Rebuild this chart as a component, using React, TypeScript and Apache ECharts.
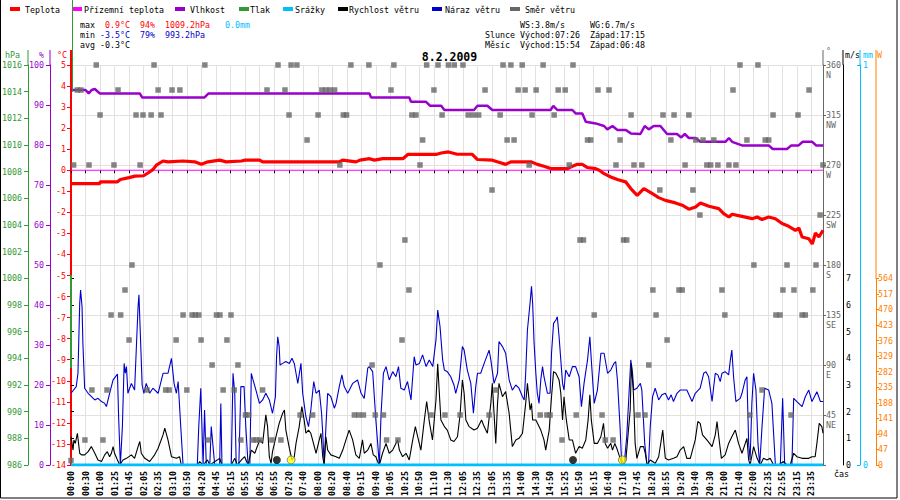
import React, { useEffect, useRef } from "react";
import * as echarts from "echarts";

// ---- tick labels (one every 5 records) ----
const timeLabels = [
  "00:00", "00:30", "01:00", "01:25", "01:45", "02:05", "02:35", "03:10", "03:50", "04:20",
  "04:45", "05:15", "05:55", "06:25", "06:55", "07:20", "07:40", "08:00", "08:20", "08:40",
  "09:15", "09:40", "10:05", "10:25", "10:50", "11:10", "11:30", "12:05", "12:35", "13:05",
  "13:35", "14:00", "14:30", "14:50", "15:25", "15:50", "16:15", "16:40", "17:10", "17:45",
  "18:20", "18:55", "19:20", "19:40", "20:30", "21:00", "21:40", "22:00", "22:35", "22:55",
  "23:15", "23:35",
];
const SAMPLE_COUNT = 260;
const LABEL_EVERY = 5;

// ---- series values: [record index, value] ----
const temperature: [number, number][] = [
  [0, -0.63], [10, -0.63], [10, -0.55], [16, -0.55], [17, -0.44], [20, -0.35], [22, -0.28], [25, -0.26],
  [26.5, -0.13], [28.2, 0.03], [29.4, 0.24], [31.7, 0.44], [33.4, 0.4], [38.6, 0.44], [42.6, 0.4],
  [44.9, 0.28], [47.2, 0.4], [51.2, 0.48], [53.5, 0.4], [58.7, 0.44], [60, 0.48], [65, 0.48],
  [66, 0.4], [92.4, 0.4], [93.5, 0.48], [98.2, 0.4], [99.5, 0.48], [102.8, 0.55], [104.5, 0.48],
  [107.4, 0.55], [114.3, 0.55], [116, 0.75], [125.7, 0.75], [127.5, 0.82], [130, 0.87],
  [133, 0.76], [138.2, 0.76], [140, 0.51], [145.1, 0.48], [146.8, 0.4], [149.7, 0.28], [151.5, 0.4],
  [158.4, 0.4], [160.6, 0.28], [162.9, 0.19], [165.2, 0.08], [171, 0.08], [172.7, 0.19], [174.4, 0.28],
  [176.1, 0.28], [177.9, 0.13], [180.7, 0.08], [181.9, 0], [183.6, -0.16], [185.9, -0.32], [188.2, -0.44],
  [191, -0.55], [192.8, -0.87], [195, -1.19], [197.3, -0.87], [200.1, -1.1], [202.4, -1.3], [204.7, -1.43],
  [208.2, -1.55], [210.5, -1.66], [212.8, -1.85], [215.1, -1.74], [216.8, -1.55], [219.7, -1.71],
  [223.1, -1.82], [224.8, -2.06], [226.6, -2.22], [227.7, -2.09], [231.1, -2.19], [234.6, -2.3],
  [236.3, -2.22], [238, -2.34], [240.3, -2.22], [242.6, -2.3], [244.9, -2.53], [247.2, -2.66],
  [249.5, -2.85], [250.7, -2.75], [251.8, -3.17], [254.1, -3.25], [255.3, -3.5], [256.4, -2.98],
  [257.6, -3.17], [259, -2.85],
];

const groundTemperature: [number, number][] = [[0, 0], [259, 0]];

const humidity: [number, number][] = [
  [0, 93.75], [5, 93.75], [6.1, 92.9], [7.1, 93.75], [8.2, 94], [9.9, 92.9], [23.7, 92.9], [24.5, 91.9],
  [46, 91.9], [47.4, 92.9], [102.8, 92.9], [103.3, 91.9], [116.5, 91.9], [117.1, 90.8], [122.3, 90.8],
  [123.7, 89.8], [127.5, 89.8], [128.6, 88.75], [138.8, 88.75], [140, 89.8], [143.4, 89.8], [145.1, 88.75],
  [165.2, 88.75], [166.1, 89.8], [167.5, 88.75], [172.7, 88.75], [173.8, 87.9], [176.1, 87.9], [177.3, 85.8],
  [180.7, 85.4], [183.6, 84.75], [184.7, 83.9], [186.5, 84.75], [188.2, 83.75], [191.1, 83.75], [192.8, 82.9],
  [196.1, 82.75], [197.6, 84.75], [199, 83.9], [200.7, 84.75], [203, 84.75], [205.3, 82.75], [208.7, 82.75],
  [210.2, 81.9], [211.4, 82.75], [212.8, 81.75], [215.1, 81.75], [216.8, 80.8], [225.4, 80.8], [226.6, 81.75],
  [227.7, 80.8], [231.1, 79.9], [240.3, 79.9], [241.7, 79], [246.6, 79], [248.1, 79.9], [250.6, 79.9],
  [252, 80.8], [255.3, 80.8], [256.6, 79.9], [259, 79.9],
];

const precipitation: [number, number][] = [[0, 0], [259, 0]];

const windSpeed: [number, number][] = [
  [0, 1.06], [0.35, 0.81], [0.7, 0.56], [1, 0.94], [1.5, 0.81], [2.2, 1.19], [3, 0.44], [3.6, 0.38], [4.7, 0.38],
  [5.9, 0.5], [7, 0.69], [8.2, 0.44], [9.3, 0.19], [10.5, 0.13], [11.6, 0.38], [12.5, 0.5], [13.3, 0.31],
  [13.9, 0.44], [14.5, 0.69], [15, 0.44], [16, 0.19], [16.8, 0], [17.9, 0.19], [19.1, 0.25], [20.8, 0.38],
  [21.9, 0.25], [23.1, 0.69], [23.7, 0.88], [24.2, 0.44], [25.4, 0.25], [27.1, 0.13], [28.8, 0.38], [30, 0.63],
  [31.7, 1.13], [32.3, 1.38], [33.4, 0.94], [34.6, 0.31], [36.3, 0.25], [37.4, 0.31], [38, 0], [43.7, 0],
  [44.3, 0.13], [45.5, 0], [47, 0.19], [47.8, 0], [51.2, 0.25], [52, 0], [55.2, 0], [56.4, 0.25], [57.3, 0],
  [58.7, 0.19], [59.8, 0.31], [61, 0], [62.1, 0.56], [63.3, 0.44], [63.7, 0.56], [65, 0.94], [66, 0.81],
  [67.1, 1.88], [67.7, 1.44], [68.3, 0.31], [68.9, 0.06], [69.4, 0.5], [70.6, 1.06], [71.7, 1.56], [72.9, 1.94],
  [73.5, 2.06], [74, 1.31], [75.2, 0.63], [76.1, 0.19], [76.9, 0.31], [77.5, 0.81], [78.6, 1.44], [79.5, 2.19],
  [80.3, 1.69], [80.9, 1.19], [81.8, 1.31], [82.6, 1.19], [83.2, 0.94], [84.4, 0.44], [85.5, 0.94], [86.1, 1.19],
  [86.7, 0.31], [87.2, 0], [87.8, 1.06], [88.4, 0.56], [89.5, 0.38], [91.3, 0.31], [92.4, 0.25], [93.6, 0.56],
  [94.7, 0.94], [95.8, 1.31], [97, 0.94], [98.1, 0.38], [99.3, 0.25], [100.4, 0.94], [101, 0.44], [102.2, 0.56],
  [103.3, 0.81], [104.1, 0.38], [105, 0.31], [105.6, 0.13], [106.2, 0], [107.3, 0.44], [108.5, 0.81],
  [109.6, 0.44], [110.8, 0.56], [111.9, 0.81], [112.5, 0.94], [113.1, 0.56], [114.2, 0.31], [115.4, 0.44],
  [116.5, 0.19], [117.7, 0.94], [118.6, 1.44], [119.4, 1.06], [120.5, 0.56], [121.7, 1.69], [122.5, 2.38],
  [123.4, 1.63], [124.5, 0.94], [125.7, 2.44], [126.3, 3.8], [126.8, 2.81], [127.4, 1.69], [128.6, 1.44],
  [129.6, 1.31], [130.8, 0.94], [131.9, 0.88], [133.1, 1.06], [134, 1.88], [134.8, 3.19], [135.4, 2.69],
  [136, 1.69], [137.1, 1.44], [138.8, 1.31], [140, 1.38], [141.4, 1.69], [142.3, 1.44], [143.4, 1.19],
  [144.6, 2.31], [145.1, 3.06], [145.7, 1.94], [146.3, 0.81], [146.9, 2.31], [147.4, 3.06], [148.6, 2.56],
  [149.7, 2.75], [150.9, 1.94], [152, 0.69], [153.2, 0.94], [154.3, 1.0], [155.5, 1.19], [156.6, 2.31],
  [157.2, 3.06], [158.1, 2.06], [158.6, 2.31], [159, 1.69], [160.1, 1.69], [161.8, 1.31], [162.9, 0.94],
  [163.5, 0.56], [164.7, 1.31], [165.5, 2.56], [166.2, 3.5], [167, 3.44], [168.1, 3.19], [168.7, 2.69],
  [169.3, 1.69], [169.8, 2.56], [170.6, 1.69], [171.6, 0.94], [172.7, 0.94], [173.8, 0.44], [175, 0.69],
  [176.1, 0.63], [177.3, 0.94], [178.1, 1.69], [178.7, 2.63], [179.2, 1.69], [180.2, 0.81], [181.3, 0.81],
  [182.5, 1.06], [183.4, 1.56], [184, 0.81], [184.8, 0.63], [185.9, 0.81], [186.5, 0.56], [187.3, 0.81],
  [188.2, 0.56], [189.3, 0.19], [189.9, 0], [191.1, 0.19], [191.9, 1.19], [192.6, 2.06], [193, 3.8],
  [193.7, 2.69], [194.3, 0.81], [194.9, 0.25], [196.1, 0.69], [197.2, 0.69], [197.8, 0.44], [198.4, 0],
  [199.5, 0.19], [200.3, 0.13], [201.2, 0.06], [202.4, 0.31], [203.3, 0.94], [203.8, 1.31], [204.2, 0.81],
  [204.7, 0.25], [205.8, 0.19], [207.5, 0.25], [208.7, 0.31], [209.8, 0.56], [211, 0.69], [212.1, 0.25],
  [213.3, 0.25], [215, 0.94], [215.9, 1.63], [216.7, 1.56], [217.5, 1.13], [219, 0.94], [220.8, 0.69],
  [221.9, 1.13], [222.5, 1.63], [223.1, 1.06], [224, 0.25], [225.3, 0.38], [226.5, 0.81], [227.6, 1.06],
  [228.8, 1.31], [229.9, 0.81], [231.1, 0.44], [232.8, 1.0], [233.4, 0.19], [233.9, 0], [235.1, 0.69],
  [236.3, 0.25], [237.4, 0], [238.5, 0.25], [239.7, 0.19], [240.8, 0.25], [242, 0], [243.7, 0], [245.4, 0.13],
  [246.6, 0], [247.7, 0], [248.9, 0.44], [250, 0.31], [251.8, 0.25], [254.1, 0.25], [255.2, 0.31],
  [256.3, 0.31], [256.9, 0.81], [257.7, 1.56], [258.6, 1.44], [259, 1.19],
];

const windGust: [number, number][] = [
  [0, 2.69], [1.8, 2.94], [2.4, 3.44], [3, 6.06], [3.3, 6.56], [3.8, 5.94], [4.1, 4.56], [4.7, 2.88], [5.9, 2.69],
  [8.2, 2.44], [9.3, 2.5], [10.5, 2.38], [11.6, 2.31], [12.2, 2.19], [13.3, 2.69], [14.5, 3.19], [16, 3.41],
  [16.4, 1.81], [17, 0], [17.7, 1.44], [18.3, 3.81], [18.7, 3.44], [19.1, 3.69], [19.6, 2.69], [20.8, 3.06],
  [21.9, 2.81], [23.1, 5.94], [23.4, 6.38], [24, 4.56], [24.5, 3.0], [25.1, 2.69], [25.9, 3.06], [27.1, 2.69],
  [28.2, 2.88], [30, 2.69], [31.7, 3.44], [33.4, 3.44], [34.6, 4.0], [35.5, 3.06], [36.3, 2.69], [36.9, 3.13],
  [37.8, 1.44], [38.6, 0], [43.5, 0], [44, 1.44], [44.7, 2.88], [45.5, 0], [46, 2.06], [46.6, 0], [47.8, 0],
  [48.3, 1.44], [49.5, 0], [51.2, 0], [51.6, 2.31], [52, 0], [55.2, 0], [55.8, 3.44], [56.4, 2.69], [56.9, 0],
  [57.8, 0], [58.5, 2.94], [59.6, 2.94], [60.2, 1.44], [61, 0], [61.6, 0], [62.1, 3.44], [62.7, 3.19],
  [63.7, 2.81], [64.9, 2.31], [66, 2.44], [67.1, 2.69], [68.3, 2.44], [69.4, 1.94], [70.4, 2.56], [70.8, 4.06],
  [71.2, 4.81], [71.7, 4.44], [72, 3.75], [72.9, 3.81], [74, 3.88], [75.2, 3.81], [76.1, 4.0], [76.9, 3.81],
  [77.5, 3.44], [78.1, 3.06], [79.2, 3.81], [79.8, 2.69], [80.9, 1.81], [81.8, 1.44], [82.6, 2.06], [83.6, 3.13],
  [84.4, 2.69], [85.5, 2.81], [86.3, 1.94], [86.7, 1.19], [87.2, 0], [87.8, 1.44], [88.4, 2.69], [89.5, 2.56],
  [90.7, 2.13], [91.3, 2.31], [92.4, 2.94], [93.3, 3.38], [94.1, 2.94], [95.3, 2.69], [97, 3.06], [98.7, 3.19],
  [99.9, 2.69], [101, 2.5], [102.2, 3.63], [102.7, 3.69], [103.9, 3.5], [105, 1.69], [106.2, 0], [106.8, 1.94],
  [107.6, 3.44], [108.5, 3.69], [109.6, 3.19], [110.8, 3.5], [111.9, 3.31], [112.8, 3.69], [113.6, 2.88],
  [114.8, 2.81], [115.9, 3.13], [117.1, 2.44], [118.2, 4.06], [118.8, 3.75], [120, 3.81], [121.1, 4.13],
  [122.3, 3.69], [123.4, 3.94], [124.6, 3.69], [125.7, 4.69], [126.3, 5.81], [127.1, 5.19], [128, 3.94],
  [128.6, 3.56], [129.6, 3.5], [130.8, 3.31], [131.9, 3.0], [132.5, 2.69], [133.7, 3.19], [134.8, 4.44],
  [135.4, 4.31], [136.5, 3.56], [137.7, 3.06], [138.6, 1.94], [139.4, 2.94], [140, 3.44], [141.1, 3.44],
  [142.3, 3.81], [144, 4.31], [144.6, 3.94], [145.7, 3.06], [146.9, 3.44], [147.4, 4.63], [148.6, 4.44],
  [149.7, 4.19], [150.9, 3.19], [152, 2.81], [153.2, 3.0], [154.3, 2.88], [155.5, 2.56], [156.1, 2.44],
  [156.6, 3.44], [157.2, 5.06], [158.1, 6.06], [158.6, 6.7], [159, 6.06], [159.5, 4.56], [160.1, 3.44],
  [160.6, 2.69], [161.2, 2.31], [161.8, 3.19], [162.4, 3.69], [162.9, 3.31], [164.1, 2.69], [165, 2.69],
  [165.5, 4.19], [166.2, 5.31], [167, 5.44], [167.5, 5.56], [168.1, 4.81], [168.7, 3.94], [169.3, 3.06],
  [169.8, 2.81], [170.4, 3.56], [171.6, 3.31], [172.7, 3.69], [173.8, 3.69], [175, 3.31], [175.8, 2.19],
  [176.7, 3.06], [177.9, 3.94], [178.7, 4.81], [179.2, 3.94], [180.2, 2.31], [181.3, 2.81], [182.5, 4.19],
  [183.6, 4.19], [184.8, 3.44], [185.9, 3.56], [187, 3.81], [187.6, 3.88], [188.2, 3.19], [189.1, 1.44],
  [189.6, 0.19], [190.5, 0], [191.4, 1.06], [192.2, 2.69], [192.8, 3.94], [193.4, 3.44], [193.8, 2.81],
  [194.9, 2.88], [196.1, 3.06], [196.6, 2.81], [197.6, 0.81], [198.4, 0], [198.9, 0], [199.5, 1.44],
  [200.3, 2.56], [201.2, 2.88], [202.4, 2.44], [203.5, 2.63], [204.7, 2.69], [205.8, 2.44], [206.7, 2.63],
  [207.5, 2.38], [208.7, 2.69], [209.8, 2.81], [212.1, 2.81], [213.9, 2.38], [215, 2.69], [216.7, 2.88],
  [217.9, 3.44], [218.7, 3.5], [219.6, 3.31], [220.8, 2.38], [221.3, 2.88], [221.9, 3.44], [222.8, 3.38],
  [223.6, 3.13], [224.2, 3.44], [225.3, 3.5], [226.5, 3.38], [227.1, 3.94], [227.6, 4.31], [228.2, 3.31],
  [229, 2.38], [230.5, 2.5], [231.1, 2.69], [232.2, 3.19], [232.8, 3.31], [233.4, 0.81], [233.9, 0.19],
  [234.5, 2.31], [235.1, 3.44], [235.9, 2.81], [236.6, 0.81], [237.2, 0], [238, 1.44], [238.9, 2.88],
  [240.3, 2.81], [241.4, 2.31], [242.6, 0], [244.3, 0], [245.1, 2.5], [245.8, 0], [248.3, 0], [248.9, 2.5],
  [250, 2.38], [251.8, 2.19], [252.9, 2.56], [254.1, 2.81], [255.2, 2.38], [256.9, 2.75], [258.1, 2.38],
  [259, 2.38],
];

// ---- wind direction: record indices per direction (degrees) ----
const dirN = [8.7, 28.6, 46.1, 71.3, 75.8, 77.8, 96.4, 102.6, 111.2, 122.5, 126.4, 130, 132, 135, 148.8, 151.5, 155.4, 162.6, 172.9, 230.4, 236.6];
const dirNNW = [2.2, 3.4, 16.2, 30, 34.8, 37.5, 67.5, 73.7, 86.4, 87.8, 89.2, 90.8, 110.2, 125, 142.6, 154, 156.4, 160.2, 167.8, 170.2, 181.5, 185.3, 228, 254.2];
const dirNW = [10, 22.4, 24.8, 27.6, 31, 75.1, 85.1, 93.8, 94.9, 117.4, 118.8, 127.8, 136.8, 138.6, 140.4, 147.8, 158.8, 166.4, 192.9, 203.9, 207.7, 212.8, 241.8, 250.4];
const dirWNW = [81.3, 121.1, 150.2, 152.6, 177.9, 179, 189.1, 206.6, 215.2, 217.7, 221.4, 232.8, 239.1, 240.3];
const dirW = [0.9, 6.2, 14.8, 23.8, 92.6, 120.2, 157.8, 171.6, 187.7, 193.9, 196.6, 211.5, 219, 220.3, 222.8, 226.6, 229, 259];
const dirWSW = [145, 202.8, 214.2];
const dirSW = [216.6, 258];
const dirSSW = [115, 175.3, 176.5, 190.3, 191.4];
const dirS = [21, 106.4, 235.2, 246.6, 256.6];
const dirSSE = [18.6, 116.4, 200.4, 209.4, 210.5, 224.2, 245.2, 249, 255.5];
const dirSE = [13.8, 17.1, 38.6, 41.7, 42.8, 44, 50.1, 51.3, 55.1, 180.2, 201.5, 225.2, 242.8, 244.2, 251.8, 252.9];
const dirESE = [20, 36.2, 44.8, 53.7, 114, 205.3];
const dirE = [48.6, 57.5, 103.7, 199];
const dirENE = [7.2, 12.4, 26.2, 32.6, 33.8, 39.9, 52.4, 56.2, 66, 146.4, 238];
const dirNE = [60.1, 61.2, 78.9, 83.2, 97.6, 99.1, 100.7, 104.8, 107.6, 124, 128.8, 134, 144, 161.6, 163.9, 165, 174, 182.9, 195.3, 197.7, 233.8, 248];
const dirNNE = [4.8, 11, 47.2, 58.5, 62.7, 63.8, 65, 69.2, 72.3, 108.7, 112.6, 169.1, 184, 186.7];
const dirCalm = [0];

const directionGroups: [number[], number][] = [
  [dirN, 360], [dirNNW, 337.5], [dirNW, 315], [dirWNW, 292.5], [dirW, 270], [dirWSW, 247.5],
  [dirSW, 225], [dirSSW, 202.5], [dirS, 180], [dirSSE, 157.5], [dirSE, 135], [dirESE, 112.5],
  [dirE, 90], [dirENE, 67.5], [dirNE, 45], [dirNNE, 22.5], [dirCalm, 4],
];
const windDirection: [number, number][] = directionGroups.flatMap(([idxs, deg]) => idxs.map((i) => [i, deg] as [number, number]));

const compassNames = ["", "NE", "E", "SE", "S", "SW", "W", "NW", "N"];

// sun / moon rise-set markers (record index)
const moonEvents = [70.9, 172.9];
const sunEvents = [75.8, 189.9];

const MONO = "DejaVu Sans Mono";
const FS = 8.3;

const C = {
  red: "#ff0000",
  magenta: "#ff00ff",
  purple: "#9900cc",
  green: "#339933",
  cyan: "#00bfff",
  black: "#000000",
  blue: "#0000cc",
  grey: "#666666",
  orange: "#ff8000",
  grid: "#e4e0e0",
};

function txt(x: number, y: number, text: string, fill: string, extra: any = {}) {
  return {
    type: "text",
    z: 20,
    style: {
      x, y, text, fill,
      fontFamily: MONO, fontSize: FS,
      align: "left", verticalAlign: "middle",
      textAlign: "left", textVerticalAlign: "middle",
      ...extra,
    },
  };
}
function ln(x1: number, y1: number, x2: number, y2: number, stroke: string, lineWidth = 1, z = 20) {
  return { type: "line", z, shape: { x1, y1, x2, y2 }, style: { stroke, lineWidth } };
}

const legendItems: [string, string, number, number][] = [
  ["Teplota", C.red, 10, 25],
  ["Přízemní teplota", C.magenta, 72, 84],
  ["Vlhkost", C.purple, 175, 190],
  ["Tlak", C.green, 239, 250],
  ["Srážky", C.cyan, 283, 295],
  ["Rychlost větru", C.black, 338, 349],
  ["Náraz větru", C.blue, 432, 445],
  ["Směr větru", C.grey, 510, 525],
];

export default function App() {
  const ref = useRef<HTMLDivElement>(null);
  useEffect(() => {
    if (!ref.current) return;
    const chart = echarts.init(ref.current, undefined, { renderer: "svg" });

    const categories = Array.from({ length: SAMPLE_COUNT }, (_, i) =>
      i % LABEL_EVERY === 0 ? timeLabels[i / LABEL_EVERY] ?? "" : ""
    );

    const labelBase = { fontFamily: MONO, fontSize: FS };
    const plain = (v: number) => String(v);

    const graphic: any[] = [];
    // frame
    graphic.push({
      type: "polyline", z: 30,
      shape: { points: [[0.5, 0], [0.5, 498], [897, 498], [897, 0]] },
      style: { stroke: "#000", lineWidth: 1, fill: null },
    });
    // legend
    legendItems.forEach(([name, color, mx, tx]) => {
      graphic.push({ type: "rect", z: 20, shape: { x: mx, y: 7, width: 10, height: 4 }, style: { fill: color } });
      graphic.push(txt(tx, 9.5, name, "#000"));
    });
    // stats block
    graphic.push(txt(80, 24.5, "max", "#000"));
    graphic.push(txt(105, 24.5, "0.9°C", C.red));
    graphic.push(txt(140, 24.5, "94%", C.red));
    graphic.push(txt(165, 24.5, "1009.2hPa", C.red));
    graphic.push(txt(225, 24.5, "0.0mm", C.cyan));
    graphic.push(txt(80, 34.5, "min", "#000"));
    graphic.push(txt(100, 34.5, "-3.5°C", C.blue));
    graphic.push(txt(140, 34.5, "79%", C.blue));
    graphic.push(txt(165, 34.5, "993.2hPa", C.blue));
    graphic.push(txt(80, 44.5, "avg", "#000"));
    graphic.push(txt(100, 44.5, "-0.3°C", "#000"));
    graphic.push(txt(520, 24.5, "WS:3.8m/s", "#000"));
    graphic.push(txt(590, 24.5, "WG:6.7m/s", "#000"));
    graphic.push(txt(485, 34.5, "Slunce", "#000"));
    graphic.push(txt(520, 34.5, "Východ:07:26", "#000"));
    graphic.push(txt(590, 34.5, "Západ:17:15", "#000"));
    graphic.push(txt(485, 44.5, "Měsíc", "#000"));
    graphic.push(txt(520, 44.5, "Východ:15:54", "#000"));
    graphic.push(txt(590, 44.5, "Západ:06:48", "#000"));
    // title
    graphic.push(txt(449.5, 57, "8.2.2009", "#000", {
      fontSize: 11.5, fontWeight: "bold", align: "center", textAlign: "center",
    }));
    // unit labels
    graphic.push(txt(5, 54.5, "hPa", C.green));
    graphic.push(txt(39, 54.5, "%", C.purple));
    graphic.push(txt(57, 54.5, "°C", C.red));
    graphic.push(txt(826, 51, "°", C.grey));
    graphic.push(txt(845, 54.5, "m/s", "#000"));
    graphic.push(txt(863, 54.5, "mm", C.cyan));
    graphic.push(txt(877, 54.5, "W", C.orange));
    graphic.push(txt(834, 474, "čas", "#000"));
    // axis line extensions above the plot
    graphic.push(ln(28, 50, 28, 65, C.green));
    graphic.push(ln(50, 50, 50, 65, C.purple));
    graphic.push(ln(71, 50, 71, 65, C.red, 2));
    graphic.push(ln(823, 50, 823, 65, C.grey));
    graphic.push(ln(843, 50, 843, 65, "#000"));
    graphic.push(ln(860, 50, 860, 65, C.cyan));
    graphic.push(ln(876, 50, 876, 279, C.orange));
    // pressure trace along the left edge
    graphic.push(ln(72.5, 0, 72.5, 92, C.green, 1, 40));
    graphic.push(ln(71, 275, 71, 368, C.green, 2, 40));

    const option: any = {
      animation: false,
      backgroundColor: "#ffffff",
      grid: [
        { left: 71, right: 77, top: 65, bottom: 35, containLabel: false, outerBoundsMode: "none" },
        { left: 71, right: 77, top: 278.33, bottom: 35, containLabel: false, outerBoundsMode: "none" },
      ],
      xAxis: [
        {
          type: "category", gridIndex: 0, data: categories, boundaryGap: false,
          axisLine: { show: false },
          axisTick: { show: true, interval: LABEL_EVERY - 1, length: 3, lineStyle: { color: "#000" } },
          axisLabel: {
            interval: LABEL_EVERY - 1, rotate: 90, margin: 6, color: "#000",
            fontFamily: MONO, fontSize: FS, fontWeight: "bold",
          },
          splitLine: { show: true, interval: LABEL_EVERY - 1, lineStyle: { color: C.grid, width: 1 } },
        },
        { type: "value", gridIndex: 0, min: 0, max: SAMPLE_COUNT - 1, show: false },
        { type: "value", gridIndex: 1, min: 0, max: SAMPLE_COUNT - 1, show: false },
      ],
      yAxis: [
        {
          type: "value", gridIndex: 0, position: "left", offset: 0, min: -14, max: 5, interval: 1,
          axisLine: { show: true, lineStyle: { color: C.red, width: 2 } },
          axisTick: { show: true, length: 4, lineStyle: { color: C.red } },
          axisLabel: { ...labelBase, color: C.red, margin: 5, formatter: plain },
          splitLine: { show: false },
        },
        {
          type: "value", gridIndex: 0, position: "left", offset: 21, min: 0, max: 100, interval: 10,
          axisLine: { show: true, lineStyle: { color: C.purple } },
          axisTick: { show: true, length: 4, lineStyle: { color: C.purple } },
          axisLabel: { ...labelBase, color: C.purple, margin: 6, formatter: plain },
          splitLine: { show: false },
        },
        {
          type: "value", gridIndex: 0, position: "left", offset: 43, min: 986, max: 1016, interval: 2,
          axisLine: { show: true, lineStyle: { color: C.green } },
          axisTick: { show: true, length: 4, lineStyle: { color: C.green } },
          axisLabel: { ...labelBase, color: C.green, margin: 6, formatter: plain },
          splitLine: { show: false },
        },
        {
          type: "value", gridIndex: 0, position: "right", offset: 0, min: 0, max: 360, interval: 45,
          axisLine: { show: true, lineStyle: { color: C.grey } },
          axisTick: { show: true, length: 3, lineStyle: { color: C.grey } },
          axisLabel: {
            ...labelBase, color: C.grey, margin: 3, lineHeight: 10,
            formatter: (v: number) => (v === 0 ? "" : `\n${v}\n${compassNames[v / 45]}`),
          },
          splitLine: { show: true, lineStyle: { color: C.grid, width: 1 } },
        },
        {
          type: "value", gridIndex: 0, position: "right", offset: 20, min: 0, max: 15,
          axisLine: { show: true, lineStyle: { color: "#000" } },
          axisTick: { show: false }, axisLabel: { show: false }, splitLine: { show: false },
        },
        {
          type: "value", gridIndex: 0, position: "right", offset: 37, min: 0, max: 1, interval: 1,
          axisLine: { show: true, lineStyle: { color: C.cyan } },
          axisTick: { show: true, length: 3, inside: true, lineStyle: { color: C.cyan } },
          axisLabel: { ...labelBase, color: C.cyan, margin: 3, formatter: plain },
          splitLine: { show: false },
        },
        {
          type: "value", gridIndex: 1, position: "right", offset: 20, min: 0, max: 7, interval: 1,
          axisLine: { show: false },
          axisTick: { show: true, length: 3, lineStyle: { color: "#000" } },
          axisLabel: { ...labelBase, color: "#000", margin: 3, formatter: plain },
          splitLine: { show: false },
        },
        {
          type: "value", gridIndex: 1, position: "right", offset: 53, min: 0, max: 564, interval: 47,
          axisLine: { show: true, lineStyle: { color: C.orange } },
          axisTick: { show: true, length: 3, lineStyle: { color: C.orange } },
          axisLabel: { ...labelBase, color: C.orange, margin: 2, formatter: plain },
          splitLine: { show: false },
        },
      ],
      series: [
        {
          name: "Vlhkost", type: "line", xAxisIndex: 1, yAxisIndex: 1, data: humidity,
          symbol: "none", lineStyle: { color: C.purple, width: 2.5 }, z: 3,
        },
        {
          name: "Přízemní teplota", type: "line", xAxisIndex: 1, yAxisIndex: 0, data: groundTemperature,
          symbol: "none", lineStyle: { color: C.magenta, width: 1.2 }, z: 3,
        },
        {
          name: "Teplota", type: "line", xAxisIndex: 1, yAxisIndex: 0, data: temperature,
          symbol: "none", lineStyle: { color: C.red, width: 3.2 }, z: 4,
        },
        {
          name: "Náraz větru", type: "line", xAxisIndex: 1, yAxisIndex: 4, data: windGust,
          symbol: "none", lineStyle: { color: C.blue, width: 1.1 }, z: 4,
        },
        {
          name: "Rychlost větru", type: "line", xAxisIndex: 1, yAxisIndex: 4, data: windSpeed,
          symbol: "none", lineStyle: { color: "#000", width: 1.1 }, z: 5,
        },
        {
          name: "Směr větru", type: "scatter", xAxisIndex: 1, yAxisIndex: 3, data: windDirection,
          symbol: "rect", symbolSize: 5.5, itemStyle: { color: C.grey }, z: 6,
        },
        {
          name: "Srážky", type: "line", xAxisIndex: 1, yAxisIndex: 5, data: precipitation,
          symbol: "none", lineStyle: { color: C.cyan, width: 3 }, z: 7,
        },
        {
          name: "Měsíc", type: "scatter", xAxisIndex: 1, yAxisIndex: 4,
          data: moonEvents.map((i) => [i, 0.19]), symbol: "circle", symbolSize: 8,
          itemStyle: { color: "#000" }, z: 8,
        },
        {
          name: "Slunce", type: "scatter", xAxisIndex: 1, yAxisIndex: 4,
          data: sunEvents.map((i) => [i, 0.19]), symbol: "circle", symbolSize: 8,
          itemStyle: { color: "#ffff00", borderColor: "#777", borderWidth: 1 }, z: 8,
        },
      ],
      graphic,
    };

    chart.setOption(option);
    return () => chart.dispose();
  }, []);

  return (
    <div
      ref={ref}
      style={{ position: "fixed", left: 0, top: 0, width: 900, height: 500, background: "#fff" }}
    />
  );
}
